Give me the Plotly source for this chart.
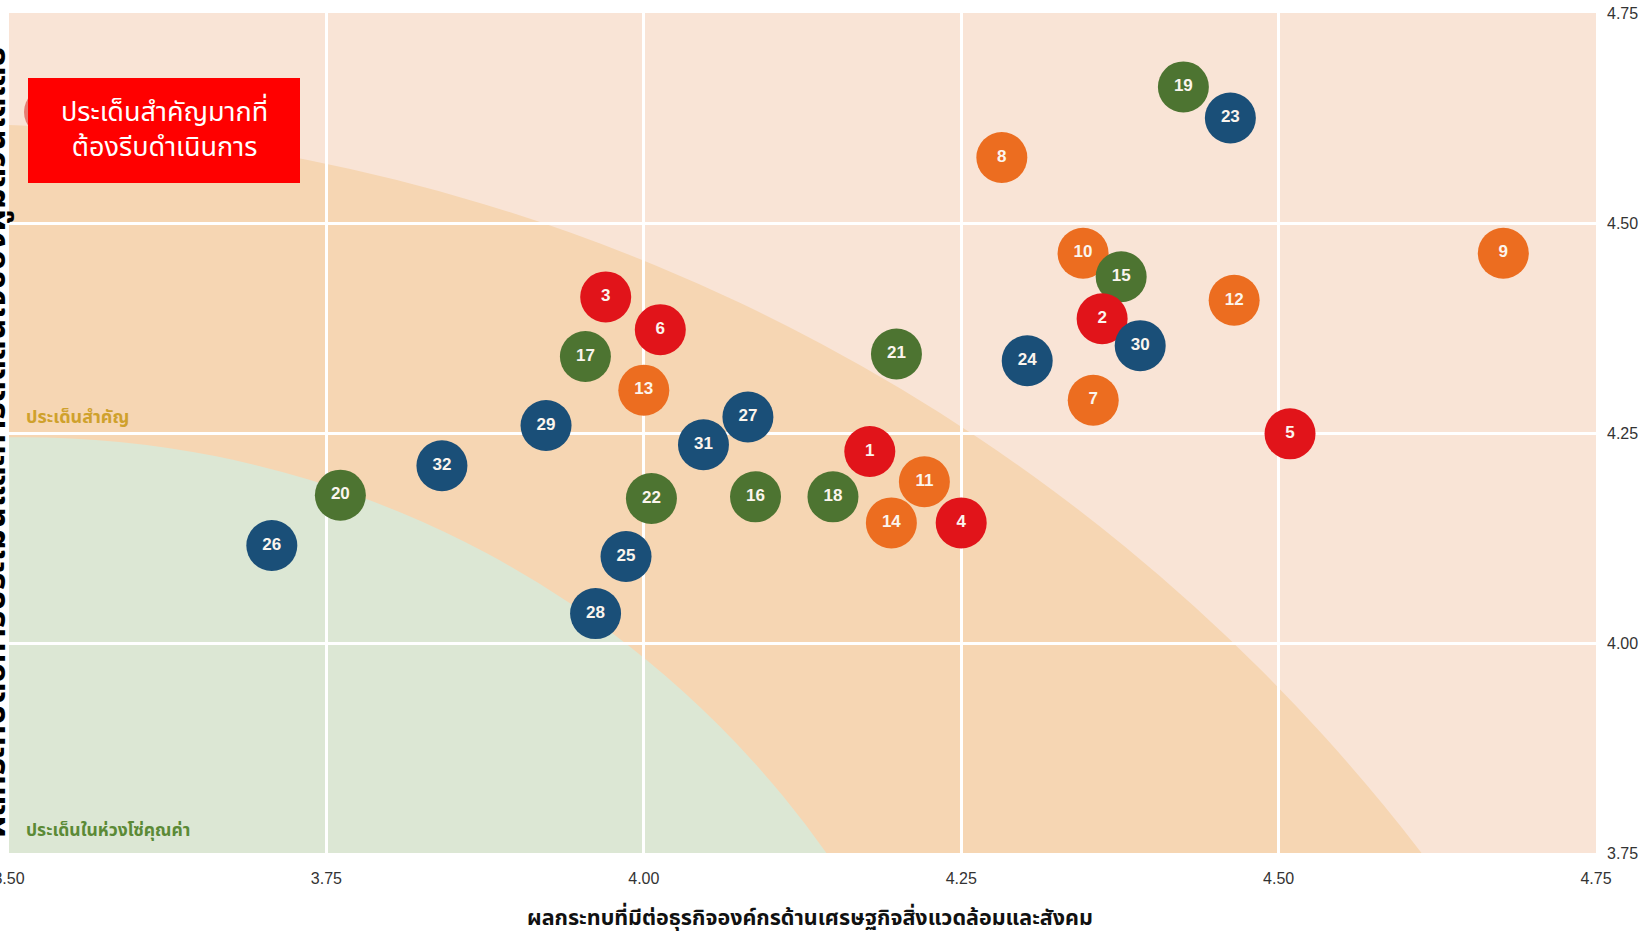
import plotly.graph_objects as go

# Materiality matrix: impact on business (x) vs. stakeholder significance (y)
issue_ids = {
    "red": [1, 2, 3, 4, 5, 6],
    "orange": [7, 8, 9, 10, 11, 12, 13, 14],
    "green": [15, 16, 17, 18, 19, 20, 21, 22],
    "blue": [23, 24, 25, 26, 27, 28, 29, 30, 31, 32],
}
business_impact = {
    "red": [4.178, 4.361, 3.970, 4.250, 4.509, 4.013],
    "orange": [4.354, 4.282, 4.677, 4.346, 4.221, 4.465, 4.000, 4.195],
    "green": [4.376, 4.088, 3.954, 4.149, 4.425, 3.761, 4.199, 4.006],
    "blue": [4.462, 4.302, 3.986, 3.707, 4.082, 3.962, 3.923, 4.391, 4.047, 3.841],
}
stakeholder_score = {
    "red": [4.228, 4.386, 4.412, 4.143, 4.249, 4.373],
    "orange": [4.289, 4.578, 4.464, 4.464, 4.192, 4.408, 4.301, 4.143],
    "green": [4.436, 4.174, 4.341, 4.174, 4.662, 4.176, 4.344, 4.172],
    "blue": [4.625, 4.336, 4.103, 4.116, 4.269, 4.035, 4.259, 4.354, 4.236, 4.211],
}
group_colors = {
    "orange": "#EC6D20",
    "green": "#4D7431",
    "red": "#E1141A",
    "blue": "#1A4F78",
}
draw_order = ["orange", "green", "red", "blue"]

x_ticks = [3.50, 3.75, 4.00, 4.25, 4.50, 4.75]
y_ticks = [3.75, 4.00, 4.25, 4.50, 4.75]

x_title = "ผลกระทบที่มีต่อธุรกิจองค์กรด้านเศรษฐกิจสิ่งแวดล้อมและสังคม"
y_title = "ผลกระทบต่อการประเมินและการตัดสินใจของผู้มีส่วนได้เสีย"
zone_top = "ประเด็นสำคัญมากที่<br>ต้องรีบดำเนินการ"
zone_mid = "ประเด็นสำคัญ"
zone_low = "ประเด็นในห่วงโซ่คุณค่า"

THAI = "Noto Sans Thai, Leelawadee UI, Tahoma, Noto Sans, sans-serif"
NUM = "Liberation Sans, Arial, sans-serif"

fig = go.Figure()

for g in draw_order:
    fig.add_trace(go.Scatter(
        x=business_impact[g],
        y=stakeholder_score[g],
        mode="markers+text",
        text=[str(i) for i in issue_ids[g]],
        textposition="middle center",
        textfont=dict(family=NUM, size=17, color="#FBF5EE", weight="bold"),
        marker=dict(size=51, color=group_colors[g], line=dict(width=0), opacity=1),
        showlegend=False,
        hoverinfo="skip",
        cliponaxis=False,
    ))

# Zone backgrounds (circular bands anchored to the lower-left corner)
orange_zone = dict(cx=3.448, cy=2.399, rx=1.468, ry=2.219)
green_zone = dict(cx=3.511, cy=3.074, rx=0.775, ry=1.171)

shapes = []
for z, col in [(orange_zone, "#F6D6B3"), (green_zone, "#DCE7D4")]:
    shapes.append(dict(
        type="circle", xref="x", yref="y", layer="below",
        x0=z["cx"] - z["rx"], x1=z["cx"] + z["rx"],
        y0=z["cy"] - z["ry"], y1=z["cy"] + z["ry"],
        fillcolor=col, line=dict(width=0),
    ))

# small red badge peeking out behind the callout box
shapes.append(dict(
    type="circle", xref="paper", yref="paper",
    x0=(24 - 9) / 1587, x1=(74 - 9) / 1587,
    y0=1 - (137 - 13) / 840, y1=1 - (87 - 13) / 840,
    fillcolor="#E57E73", line=dict(width=0),
))
# red callout box
shapes.append(dict(
    type="rect", xref="paper", yref="paper",
    x0=(28 - 9) / 1587, x1=(300 - 9) / 1587,
    y0=1 - (183 - 13) / 840, y1=1 - (78 - 13) / 840,
    fillcolor="#FF0000", line=dict(width=0),
))

annotations = [
    dict(text=zone_top, xref="paper", yref="paper",
         x=(164 - 9) / 1587, y=1 - (130 - 13) / 840,
         showarrow=False, xanchor="center", yanchor="middle",
         font=dict(family=THAI, size=27, color="#FFFFFF")),
    dict(text=zone_mid, xref="paper", yref="paper",
         x=(24 - 9) / 1587, y=1 - (417 - 13) / 840,
         showarrow=False, xanchor="left", yanchor="middle",
         font=dict(family=THAI, size=18, color="#CFA12C", weight="bold")),
    dict(text=zone_low, xref="paper", yref="paper",
         x=(24 - 9) / 1587, y=1 - (830 - 13) / 840,
         showarrow=False, xanchor="left", yanchor="middle",
         font=dict(family=THAI, size=17.5, color="#5B8A36", weight="bold")),
    dict(text=x_title, xref="paper", yref="paper",
         x=(810 - 9) / 1587, y=1 - (918 - 13) / 840,
         showarrow=False, xanchor="center", yanchor="middle",
         font=dict(family=THAI, size=21.5, color="#111111", weight="bold")),
    dict(text=y_title, xref="paper", yref="paper",
         x=(-5 - 9) / 1587, y=1 - (442 - 13) / 840,
         textangle=-90, showarrow=False, xanchor="center", yanchor="middle",
         font=dict(family=THAI, size=33, color="#000000", weight="bold")),
]

fig.update_layout(
    width=1641, height=933,
    margin=dict(l=9, r=45, t=13, b=80, pad=0, autoexpand=False),
    paper_bgcolor="#FFFFFF",
    plot_bgcolor="#F9E4D6",
    shapes=shapes,
    annotations=annotations,
    xaxis=dict(
        range=[3.5, 4.75], tickvals=x_ticks,
        ticktext=[f"{v:.2f}" for v in x_ticks],
        showgrid=True, gridcolor="#FFFFFF", gridwidth=3,
        zeroline=False, showline=False, ticks="",
        ticklabelstandoff=14, ticklabeloverflow="allow",
        automargin=False,
        tickfont=dict(family=NUM, size=16, color="#333333"),
        fixedrange=True,
    ),
    yaxis=dict(
        range=[3.75, 4.75], tickvals=y_ticks,
        ticktext=[f"{v:.2f}" for v in y_ticks],
        side="right",
        showgrid=True, gridcolor="#FFFFFF", gridwidth=3,
        zeroline=False, showline=False, ticks="",
        ticklabelstandoff=10, ticklabeloverflow="allow",
        automargin=False,
        tickfont=dict(family=NUM, size=16, color="#333333"),
        fixedrange=True,
    ),
)

fig.write_html("out.html")
